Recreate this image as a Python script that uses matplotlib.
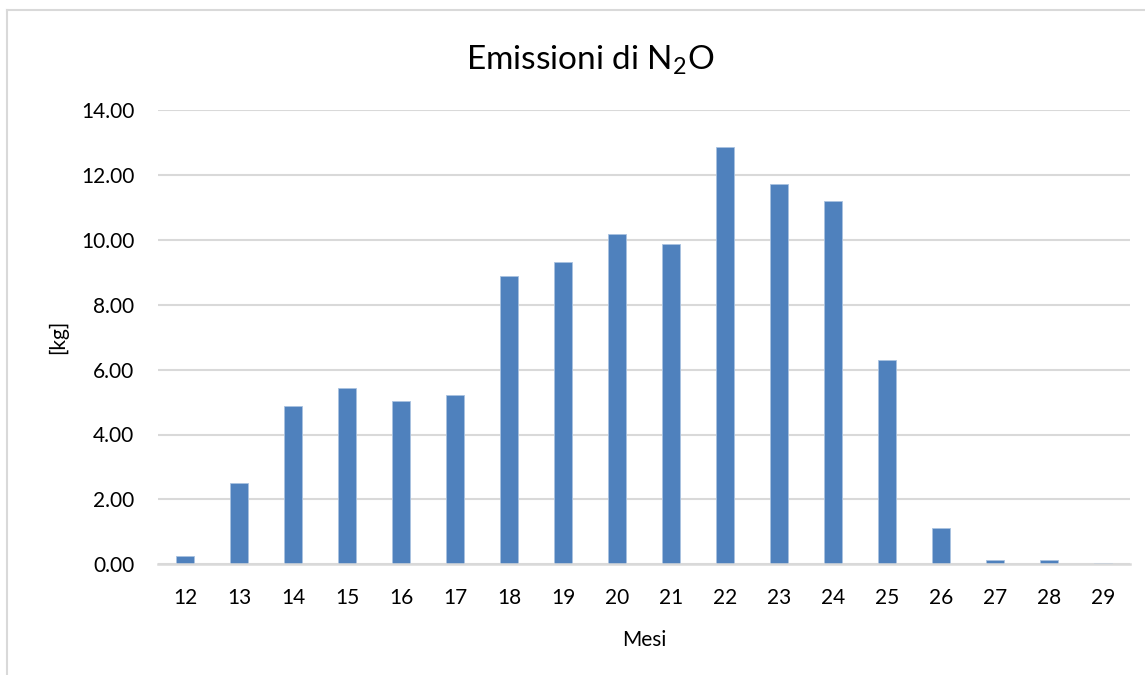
"""
Bar chart of monthly N2O emissions (Excel-style look).
"""
import numpy as np
import matplotlib
matplotlib.use('Agg')
import matplotlib.pyplot as plt
from matplotlib.lines import Line2D

mesi = [12, 13, 14, 15, 16, 17, 18, 19, 20, 21, 22, 23, 24, 25, 26, 27, 28, 29]
emissioni = [0.27, 2.50, 4.87, 5.42, 5.02, 5.21, 8.87, 9.31, 10.18, 9.88,
             12.87, 11.72, 11.20, 6.29, 1.13, 0.14, 0.14, 0.03]
yticks = [0, 2, 4, 6, 8, 10, 12, 14]

BAR_COLOR = '#4F81BD'
GRID_COLOR = '#D9D9D9'

plt.rcParams['font.family'] = ['Lato', 'DejaVu Sans']
plt.rcParams['mathtext.fontset'] = 'custom'
plt.rcParams['mathtext.rm'] = 'Lato'
plt.rcParams['mathtext.default'] = 'regular'

fig = plt.figure(figsize=(11.45, 6.75), dpi=100)
ax = fig.add_axes([158/1145, 1 - 564.3/675, (1130 - 158)/1145, (564.3 - 110)/675])

x = np.arange(len(mesi))
ax.bar(x, emissioni, width=0.315, color=BAR_COLOR, edgecolor='#A9C2E0', lw=0.6, zorder=3)

ax.set_xlim(-0.5, len(mesi) - 0.5)
ax.set_ylim(0, 14)
ax.set_xticks(x)
ax.set_xticklabels([str(m) for m in mesi])
ax.set_yticks(yticks)
ax.set_yticklabels([f"{v:.2f}" for v in yticks])
ax.tick_params(axis='both', length=0, labelsize=15, colors='#000000')
ax.tick_params(axis='x', pad=17)
ax.tick_params(axis='y', pad=17)

ax.grid(axis='y', color=GRID_COLOR, lw=1.5, zorder=0)
for side in ['top', 'right', 'left']:
    ax.spines[side].set_visible(False)
ax.spines['bottom'].set_color(GRID_COLOR)
ax.spines['bottom'].set_linewidth(1.8)
ax.spines['bottom'].set_zorder(4)

ax.set_xlabel('Mesi', fontsize=15, labelpad=16)
ax.set_ylabel('[kg]', fontsize=15, labelpad=9)

fig.text(590/1145, 1 - 60/675, r'Emissioni di N$_2$O', fontsize=24,
         ha='center', va='center')

# outer chart frame (cut off at the right and bottom of the image)
fig.add_artist(Line2D([7/1145, 7/1145], [0, 1 - 10/675], transform=fig.transFigure,
                      color=GRID_COLOR, lw=1.5))
fig.add_artist(Line2D([7/1145, 1], [1 - 10/675, 1 - 10/675], transform=fig.transFigure,
                      color=GRID_COLOR, lw=1.5))

fig.savefig('out.png', dpi=100)
